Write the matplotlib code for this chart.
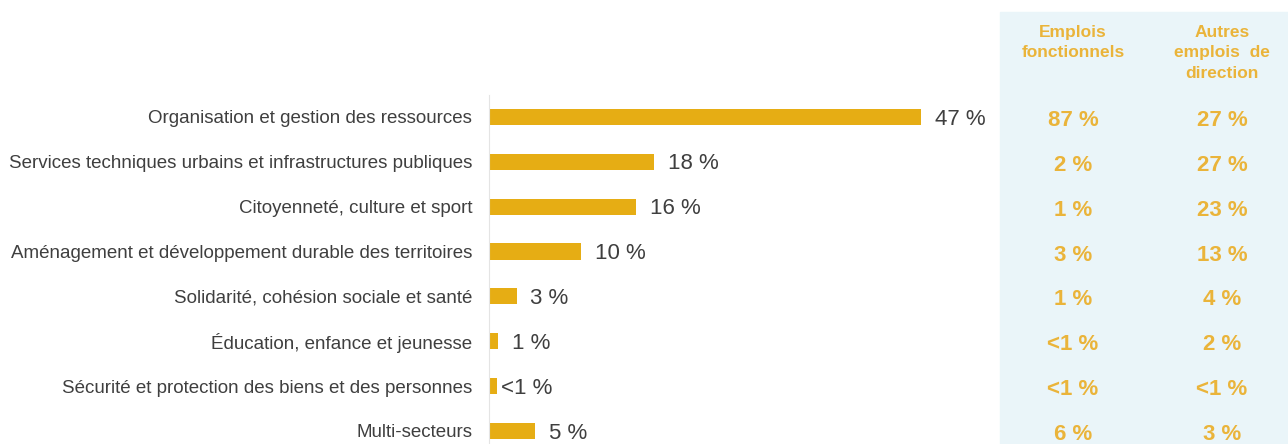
import matplotlib.pyplot as plt
from matplotlib.patches import Rectangle
from matplotlib.transforms import blended_transform_factory, offset_copy

# Données
secteurs = [
    "Organisation et gestion des ressources",
    "Services techniques urbains et infrastructures publiques",
    "Citoyenneté, culture et sport",
    "Aménagement et développement durable des territoires",
    "Solidarité, cohésion sociale et santé",
    "Éducation, enfance et jeunesse",
    "Sécurité et protection des biens et des personnes",
    "Multi-secteurs",
]
valeurs = [47, 18, 16, 10, 3, 1, 0.9, 5]
etiquettes = ["47 %", "18 %", "16 %", "10 %", "3 %", "1 %", "<1 %", "5 %"]
emplois_fonctionnels = ["87 %", "2 %", "1 %", "3 %", "1 %", "<1 %", "<1 %", "6 %"]
autres_emplois = ["27 %", "27 %", "23 %", "13 %", "4 %", "2 %", "<1 %", "3 %"]
entetes = ["Emplois\nfonctionnels", "Autres\nemplois  de\ndirection"]

OR = "#e6ad14"
OR_CLAIR = "#eab43a"
GRIS = "#3f3f3f"

plt.rcParams['font.family'] = ['Liberation Sans', 'DejaVu Sans']

W, H = 1288, 444
fig = plt.figure(figsize=(W / 100, H / 100), dpi=100)

# panneau bleu clair à droite
fig.patches.append(Rectangle((1000 / W, 0), (W - 1000) / W, (H - 12) / H,
                             transform=fig.transFigure, color="#eaf5f9", zorder=-5))

ax = fig.add_axes([489 / W, 0, 511 / W, (H - 95) / H])
ax.set_facecolor("none")
y = list(range(len(secteurs)))
ax.barh(y, valeurs, height=0.36, color=OR)
ax.set_xlim(0, 511 / 9.19)
ax.set_ylim(7.29, -0.49)
ax.set_yticks(y)
ax.set_yticklabels(secteurs, fontsize=13.5, color=GRIS)
ax.tick_params(axis="y", length=0, pad=12)
ax.set_xticks([])
for s in ["top", "right", "bottom"]:
    ax.spines[s].set_visible(False)
ax.spines["left"].set_color("#e4e4e4")

for yi, v, lab in zip(y, valeurs, etiquettes):
    dx = 3 if lab.startswith("<") else 10
    ax.annotate(lab, (v, yi), xytext=(dx, -1.5), textcoords="offset points",
                va="center", ha="left", fontsize=16, color=GRIS)

# colonnes de droite
tr = offset_copy(blended_transform_factory(fig.transFigure, ax.transData),
                 fig=fig, y=-2.5, units="points")
for xc, col in [(1073, emplois_fonctionnels), (1222, autres_emplois)]:
    for yi, txt in zip(y, col):
        fig.text(xc / W, yi, txt, transform=tr, ha="center", va="center",
                 fontsize=16, fontweight="bold", color=OR_CLAIR)

fig.text(1073 / W, 1 - 25 / H, entetes[0], ha="center", va="top", fontsize=12.5,
         fontweight="bold", color=OR_CLAIR, linespacing=1.45)
fig.text(1222 / W, 1 - 25 / H, entetes[1], ha="center", va="top", fontsize=12.5,
         fontweight="bold", color=OR_CLAIR, linespacing=1.45)

fig.savefig("out.png", dpi=100)
